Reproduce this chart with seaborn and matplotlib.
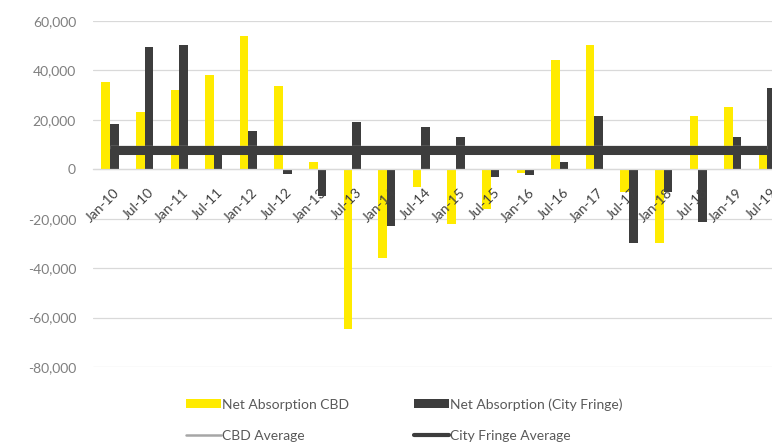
import numpy as np
import pandas as pd
import matplotlib
matplotlib.use("Agg")
import matplotlib.pyplot as plt
import matplotlib.transforms as mtransforms
import seaborn as sns
from matplotlib.patches import Patch
from matplotlib.lines import Line2D
from matplotlib.ticker import FuncFormatter

categories = ["Jan-10", "Jul-10", "Jan-11", "Jul-11", "Jan-12", "Jul-12", "Jan-13", "Jul-13",
              "Jan-14", "Jul-14", "Jan-15", "Jul-15", "Jan-16", "Jul-16", "Jan-17", "Jul-17",
              "Jan-18", "Jul-18", "Jan-19", "Jul-19"]
cbd = [35500, 23000, 32000, 38000, 54000, 33500, 2800, -64500, -36000, -7000,
       -22000, -16000, -1500, 44400, 50400, -9000, -30000, 21500, 25400, 7000]
fringe = [18500, 49600, 50400, 7000, 15300, -2000, -11000, 19000, -23000, 17000,
          13000, -3000, -2500, 3000, 21500, -30000, -9000, -21500, 13000, 33000]
cbd_avg = 9000
fringe_avg = 8000
series_names = ["Net Absorption CBD", "Net Absorption (City Fringe)"]
avg_names = ["CBD Average", "City Fringe Average"]
yticks = [60000, 40000, 20000, 0, -20000, -40000, -60000, -80000]

yellow = "#FFEB00"
dark = "#3D3D3D"
grey = "#A6A6A6"

sns.set_style("white")
plt.rcParams["font.family"] = ["Lato", "DejaVu Sans"]

df = pd.DataFrame({
    "period": categories * 2,
    "value": cbd + fringe,
    "series": [series_names[0]] * len(categories) + [series_names[1]] * len(categories),
})

fig = plt.figure(figsize=(7.72, 4.46), dpi=100)
W, H = 772, 446
left_px, step = 92.7, 34.6
ax = fig.add_axes([left_px / W, (H - 367) / H, len(categories) * step / W, (367 - 21) / H])

sns.barplot(data=df, x="period", y="value", hue="series", order=categories,
            hue_order=series_names, palette=[yellow, dark], width=0.5, gap=0,
            saturation=1, ax=ax, legend=False, edgecolor="none", linewidth=0)

xs = np.arange(len(categories))
ax.plot(xs, [cbd_avg] * len(categories), color=grey, lw=2.5, zorder=4,
        solid_capstyle="butt")
ax.plot(xs, [fringe_avg] * len(categories), color=dark, lw=6.5, zorder=5,
        solid_capstyle="butt")

ax.set_xlim(-0.5, len(categories) - 0.5)
ax.set_ylim(-80000, 60000)
ax.set_yticks(yticks)
ax.yaxis.set_major_formatter(FuncFormatter(lambda v, p: f"{int(v):,}"))
ax.grid(axis="y", color="#D9D9D9", lw=0.9, zorder=0)
ax.set_axisbelow(True)
ax.set_xlabel("")
ax.set_ylabel("")

for s in ["top", "right", "left"]:
    ax.spines[s].set_visible(False)
ax.spines["bottom"].set_position(("data", 0))
ax.spines["bottom"].set_color("#D9D9D9")
ax.spines["bottom"].set_linewidth(0.9)

ax.tick_params(axis="y", length=0, pad=12, labelsize=10, labelcolor="#7F7F7F")
ax.set_xticks(xs)
ax.tick_params(axis="x", length=0, labelbottom=False)

# category labels drawn above the bars, next to the zero line
offset = mtransforms.ScaledTranslation(3 / 100, -17 / 100, fig.dpi_scale_trans)
for xpos, cat in zip(ax.get_xticks(), categories):
    ax.text(xpos, 0, cat, transform=ax.transData + offset, rotation=45, ha="right",
            va="top", rotation_mode="anchor", fontsize=10, color="#404040", zorder=6,
            clip_on=False)

handles = [
    Patch(facecolor=yellow, edgecolor="none"),
    Line2D([0], [0], color=grey, lw=1.8),
    Patch(facecolor=dark, edgecolor="none"),
    Line2D([0], [0], color=dark, lw=3),
]
labels = [series_names[0], avg_names[0], series_names[1], avg_names[1]]
fig.legend(handles, labels, ncol=2, loc="upper left", bbox_to_anchor=(186 / W, 1 - 398 / H),
           frameon=False, fontsize=10, labelcolor="#595959", handlelength=2.5,
           handleheight=0.55, handletextpad=0.1, columnspacing=4.7, labelspacing=1.4,
           borderpad=0, borderaxespad=0)

fig.savefig("out.png", dpi=100)
